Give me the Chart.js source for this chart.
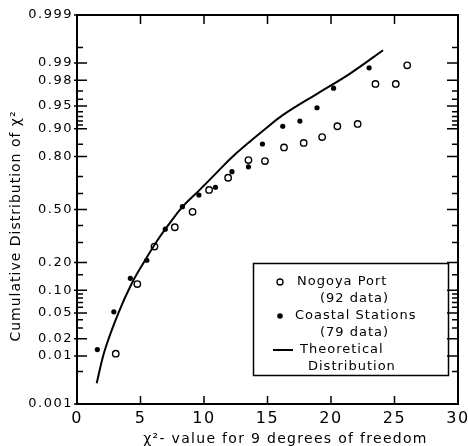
<!DOCTYPE html>
<html><head><meta charset="utf-8">
<script src="https://cdn.jsdelivr.net/npm/chart.js@4.4.1/dist/chart.umd.min.js"></script>
<style>html,body{margin:0;padding:0;background:#fff;}canvas{display:block;}</style>
</head><body>
<canvas id="c" width="468" height="446"></canvas>
<script>
// ---- data ----
const yTickLabels = ['0.001','0.01','0.02','0.05','0.10','0.20','0.50','0.80','0.90','0.95','0.98','0.99','0.999'];
const yMinorProbs = [0.005,0.03,0.04,0.06,0.07,0.08,0.09,0.15,0.30,0.40,0.60,0.70,0.85,0.91,0.92,0.93,0.94,0.96,0.97,0.995];
const xTickValues = [0,5,10,15,20,25,30];

const nagoyaX = [3.05,4.75,6.1,7.7,9.1,10.4,11.9,13.5,14.8,16.3,17.85,19.3,20.5,22.1,23.5,25.1,26.0];
const nagoyaP = [0.011,0.118,0.278,0.389,0.485,0.622,0.693,0.784,0.779,0.838,0.855,0.875,0.907,0.913,0.977,0.977,0.989];

const coastalX = [1.6,2.9,4.2,5.5,6.95,8.3,9.6,10.9,12.2,13.5,14.6,16.2,17.55,18.9,20.2,23.0];
const coastalP = [0.013,0.052,0.137,0.21,0.377,0.518,0.591,0.638,0.726,0.751,0.851,0.907,0.92,0.947,0.973,0.9878];

const theoryX = [1.55,2.2,3.25,4.3,5.35,6.3,7.2,8.25,9.6,11.0,12.2,13.6,14.6,16.2,18.9,21.5,24.1];
const theoryP = [0.0029,0.0129,0.0495,0.119,0.209,0.3085,0.403,0.512,0.618,0.721,0.797,0.859,0.893,0.933,0.967,0.9846,0.9943];

const legendRows = [
  {mark:'open', text:'Nogoya Port', indent:297},
  {mark:null, text:'(92 data)', indent:320},
  {mark:'dot', text:'Coastal Stations', indent:295},
  {mark:null, text:'(79 data)', indent:320},
  {mark:'line', text:'Theoretical', indent:300},
  {mark:null, text:'Distribution', indent:308}
];
const xTitle = 'χ²- value for 9 degrees of freedom';
const yTitle = 'Cumulative Distribution of χ²';

// normal-probability scale transform (inverse standard normal CDF, Acklam)
function probit(p){
  const a=[-39.69683028665376,220.9460984245205,-275.9285104469687,138.3577518672690,-30.66479806614716,2.506628277459239];
  const b=[-54.47609879822406,161.5858368580409,-155.6989798598866,66.80131188771972,-13.28068155288572];
  const c=[-0.007784894002430293,-0.3223964580411365,-2.400758277161838,-2.549732539343734,4.374664141464968,2.938163982698783];
  const d=[0.007784695709041462,0.3224671290700398,2.445134137142996,3.754408661907416];
  const pl=0.02425;
  let q,r;
  if(p<pl){q=Math.sqrt(-2*Math.log(p));return (((((c[0]*q+c[1])*q+c[2])*q+c[3])*q+c[4])*q+c[5])/((((d[0]*q+d[1])*q+d[2])*q+d[3])*q+1);}
  if(p>1-pl){q=Math.sqrt(-2*Math.log(1-p));return -(((((c[0]*q+c[1])*q+c[2])*q+c[3])*q+c[4])*q+c[5])/((((d[0]*q+d[1])*q+d[2])*q+d[3])*q+1);}
  q=p-0.5;r=q*q;
  return (((((a[0]*r+a[1])*r+a[2])*r+a[3])*r+a[4])*r+a[5])*q/(((((b[0]*r+b[1])*r+b[2])*r+b[3])*r+b[4])*r+1);
}
const pts = (xs,ps)=>xs.map((x,i)=>({x:x,y:probit(ps[i])}));
const Y_MIN = probit(0.001), Y_MAX = probit(0.999);

const FONT = "'DejaVu Sans', sans-serif";
const INK = '#000000';

const framePlugin = {
  id:'frameAndTexts',
  beforeDraw(chart){ chart.ctx.letterSpacing='1.5px'; },
  afterDraw(chart){
    const ctx=chart.ctx, xs=chart.scales.x, ys=chart.scales.y;
    const L=xs.getPixelForValue(0), R=xs.getPixelForValue(30);
    const T=ys.getPixelForValue(Y_MAX), B=ys.getPixelForValue(Y_MIN);
    ctx.save();
    ctx.fillStyle=INK; ctx.strokeStyle=INK;

    // frame
    ctx.lineWidth=2;
    ctx.strokeRect(L,T,R-L,B-T);
    // inward tick marks on all four sides
    ctx.lineWidth=1.5;
    ctx.beginPath();
    yTickLabels.forEach(t=>{
      const y=ys.getPixelForValue(probit(parseFloat(t)));
      ctx.moveTo(L-3,y); ctx.lineTo(L+10,y);
      ctx.moveTo(R-11,y); ctx.lineTo(R,y);
    });
    yMinorProbs.forEach(p=>{
      const y=ys.getPixelForValue(probit(p));
      ctx.moveTo(L,y); ctx.lineTo(L+6,y);
      ctx.moveTo(R-6,y); ctx.lineTo(R,y);
    });
    xTickValues.slice(1,-1).forEach(v=>{
      const x=xs.getPixelForValue(v);
      ctx.moveTo(x,B); ctx.lineTo(x,B-8);
      ctx.moveTo(x,T); ctx.lineTo(x,T+9);
    });
    ctx.stroke();

    // axis titles
    ctx.font='14px '+FONT;
    ctx.letterSpacing='1.3px';
    ctx.textAlign='center'; ctx.textBaseline='middle';
    ctx.fillText(xTitle,(L+R)/2+18,439);
    ctx.save();
    ctx.translate(16,226); ctx.rotate(-Math.PI/2);
    ctx.letterSpacing='1px';
    ctx.fillText(yTitle,0,0);
    ctx.restore();

    // legend
    ctx.lineWidth=1.5;
    ctx.strokeRect(253.5,263.5,195,112);
    ctx.font='13px '+FONT; ctx.letterSpacing='1px';
    ctx.textAlign='left';
    legendRows.forEach((r,i)=>{
      const y=282+i*17;
      if(r.mark==='open'){ctx.beginPath();ctx.lineWidth=1.3;ctx.arc(280,y,3,0,Math.PI*2);ctx.stroke();}
      if(r.mark==='dot'){ctx.beginPath();ctx.arc(280,y,2.8,0,Math.PI*2);ctx.fill();}
      if(r.mark==='line'){ctx.beginPath();ctx.lineWidth=2;ctx.moveTo(273,y);ctx.lineTo(293,y);ctx.stroke();}
      ctx.fillText(r.text,r.indent,y);
    });
    ctx.restore();
    ctx.letterSpacing='0px';
  }
};

new Chart(document.getElementById('c'),{
  type:'scatter',
  data:{datasets:[
    {type:'line',label:'Theoretical Distribution',data:pts(theoryX,theoryP),borderColor:INK,borderWidth:2,pointRadius:0,tension:0.4,fill:false},
    {label:'Nogoya Port (92 data)',data:pts(nagoyaX,nagoyaP),pointRadius:3.2,backgroundColor:'#fff',borderColor:INK,borderWidth:1.4},
    {label:'Coastal Stations (79 data)',data:pts(coastalX,coastalP),pointRadius:2.6,backgroundColor:INK,borderColor:INK,borderWidth:0}
  ]},
  options:{
    responsive:false,animation:false,
    layout:{padding:{top:15,right:10,left:0,bottom:0}},
    plugins:{legend:{display:false},tooltip:{enabled:false}},
    scales:{
      x:{type:'linear',min:0,max:30,
        afterBuildTicks(s){s.ticks=xTickValues.map(v=>({value:v}));},
        ticks:{color:INK,font:{family:FONT,size:16},padding:5,maxRotation:0,autoSkip:false},
        grid:{display:false,drawTicks:false},border:{display:false},
        afterFit(s){s.height=42;s.paddingLeft=0;s.paddingRight=0;}},
      y:{type:'linear',min:Y_MIN,max:Y_MAX,
        afterBuildTicks(s){s.ticks=yTickLabels.map(t=>({value:probit(parseFloat(t))}));},
        ticks:{callback:(v,i)=>yTickLabels[i],color:INK,font:{family:FONT,size:13},padding:4,autoSkip:false},
        grid:{display:false,drawTicks:false},border:{display:false},
        afterFit(s){s.width=77;s.paddingTop=0;s.paddingBottom=0;}}
    }
  },
  plugins:[framePlugin]
});
</script>
</body></html>
